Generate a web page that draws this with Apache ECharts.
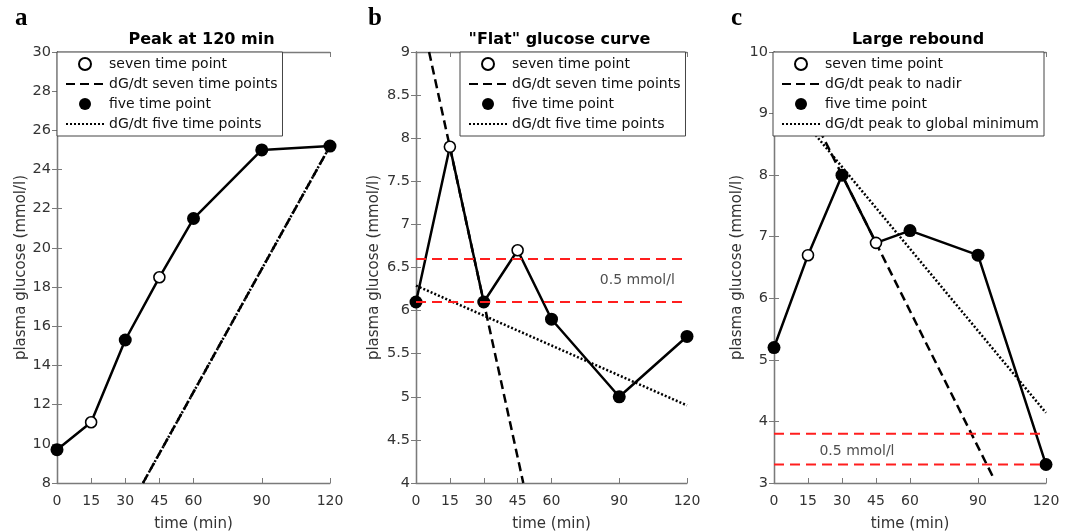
<!DOCTYPE html>
<html>
<head>
<meta charset="utf-8">
<script src="https://cdn.jsdelivr.net/npm/echarts@6/dist/echarts.min.js"></script>
<style>
html, body { margin: 0; padding: 0; background: #fff; }
#chart { width: 1072px; height: 531px; }
</style>
</head>
<body>
<div id="chart"></div>
<script>
// sampling times (min) and tick positions
const times = [0, 15, 30, 45, 60, 90, 120];
const timeTicks = [0, 15, 30, 45, 60, 90, 120];
// times that are only sampled in the seven time point protocol
const sevenOnlyTimes = [15, 45];

// plasma glucose (mmol/l) per panel
const glucoseA = [9.7, 11.1, 15.3, 18.5, 21.5, 25.0, 25.2];
const glucoseB = [6.1, 7.9, 6.1, 6.7, 5.9, 5.0, 5.7];
const glucoseC = [5.2, 6.7, 8.0, 6.9, 7.1, 6.7, 3.3];

// dG/dt lines as [time, glucose] end points
const slopeA7 = [[37.8, 8], [120, 25.2]];
const slopeA5 = [[37.8, 8], [120, 25.2]];
const slopeB7 = [[5.8, 9], [47.5, 4]];
const slopeB5 = [[0, 6.29], [120, 4.9]];
const slopeC7 = [[20, 8.74], [96.6, 3.1]];
const slopeC5 = [[15, 8.8], [120, 4.14]];

// 0.5 mmol/l bands and where their note sits
const bandB = [6.6, 6.1];
const bandC = [3.8, 3.3];
const noteB = [98, 6.35];
const noteC = [36.6, 3.52];
const noteText = '0.5 mmol/l';

// y axis ranges [min, max, interval]
const yRanges = [[8, 30, 2], [4, 9, 0.5], [3, 10, 1]];

const titles = ['Peak at 120 min', '"Flat" glucose curve', 'Large rebound'];
const letters = ['a', 'b', 'c'];
const legendNames = [
    ['seven time point', 'dG/dt seven time points', 'five time point', 'dG/dt five time points'],
    ['seven time point', 'dG/dt seven time points', 'five time point', 'dG/dt five time points'],
    ['seven time point', 'dG/dt peak to nadir', 'five time point', 'dG/dt peak to global minimum']
];

// layout
const grids = [
    { left: 57, top: 52, width: 273, height: 431, outerBoundsMode: 'none' },
    { left: 416, top: 52, width: 271, height: 431, outerBoundsMode: 'none' },
    { left: 774, top: 52, width: 272, height: 431, outerBoundsMode: 'none' }
];
const legendLeft = [57, 460, 773];
const letterLeft = [10, 363, 726];
const nameGaps = [26, 34, 29];

const font = 'DejaVu Sans';
const axisGray = '#7a7a7a';
const labelColor = '#333';

// build series for one panel
const panelSeries = (i, glucose, slope7, slope5, band, note) => {
    const ax = { xAxisIndex: 2 * i, yAxisIndex: 2 * i };
    const pts = times.map((t, k) => [t, glucose[k]]);
    const names = legendNames[i];
    // line series: hide the symbol that the legend would otherwise draw
    const noSym = { opacity: 0 };
    const list = [
        { ...ax, type: 'line', data: pts, symbol: 'none', color: '#000',
          lineStyle: { color: '#000', width: 2.5 }, z: 2 },
        { ...ax, name: names[1], type: 'line', data: slope7, symbol: 'none', color: '#000',
          itemStyle: noSym, lineStyle: { color: '#000', width: 2.5, type: [9, 5] }, z: 2 },
        { ...ax, name: names[3], type: 'line', data: slope5, symbol: 'none', color: '#000',
          itemStyle: noSym, lineStyle: { color: '#000', width: 2.5, type: [2, 2] }, z: 2 },
        { ...ax, name: names[0], type: 'scatter', symbol: 'circle', symbolSize: 11,
          data: pts.filter(p => sevenOnlyTimes.includes(p[0])),
          itemStyle: { color: '#fff', borderColor: '#000', borderWidth: 1.6, opacity: 1 }, z: 3 },
        { ...ax, name: names[2], type: 'scatter', symbol: 'circle', symbolSize: 13,
          data: pts.filter(p => !sevenOnlyTimes.includes(p[0])),
          itemStyle: { color: '#000', opacity: 1 }, z: 3 }
    ];
    if (band) {
        band.forEach(v => {
            list.push({ ...ax, type: 'line', data: [[0, v], [120, v]], symbol: 'none',
                lineStyle: { color: '#ff1e1e', width: 2, type: [10, 6] }, z: 4 });
        });
        list.push({ ...ax, type: 'scatter', data: [note], symbolSize: 0, z: 4,
            label: { show: true, position: 'inside', formatter: noteText,
                fontFamily: font, fontSize: 14, color: '#222' } });
    }
    return list;
};

const xAxes = [];
const yAxes = [];
grids.forEach((g, i) => {
    xAxes.push({
        gridIndex: i, type: 'value', position: 'bottom', min: 0, max: 120,
        name: 'time (min)', nameLocation: 'middle', nameGap: 34,
        nameTextStyle: { fontFamily: font, fontSize: 15, color: labelColor },
        axisLine: { lineStyle: { color: axisGray, width: 1.3 } },
        axisTick: { inside: true, length: 5, customValues: timeTicks, lineStyle: { color: axisGray } },
        axisLabel: { customValues: timeTicks, margin: 11, fontFamily: font, fontSize: 14, color: labelColor },
        splitLine: { show: false }
    });
    xAxes.push({
        gridIndex: i, type: 'value', position: 'top', min: 0, max: 120,
        axisLine: { lineStyle: { color: axisGray, width: 1.3 } },
        axisTick: { inside: true, length: 5, customValues: timeTicks, lineStyle: { color: axisGray } },
        axisLabel: { show: false },
        splitLine: { show: false }
    });
    const [mn, mx, step] = yRanges[i];
    yAxes.push({
        gridIndex: i, type: 'value', position: 'left', min: mn, max: mx, interval: step,
        name: 'plasma glucose (mmol/l)', nameLocation: 'middle', nameGap: nameGaps[i],
        nameTextStyle: { fontFamily: font, fontSize: 15, color: labelColor },
        axisLine: { show: true, lineStyle: { color: axisGray, width: 1.3 } },
        axisTick: { show: true, inside: true, length: 5, lineStyle: { color: axisGray } },
        axisLabel: { margin: 6, fontFamily: font, fontSize: 14.5, color: labelColor },
        splitLine: { show: false }
    });
    yAxes.push({
        gridIndex: i, type: 'value', position: 'right', min: mn, max: mx, interval: step,
        axisLine: { show: true, lineStyle: { color: axisGray, width: 1.3 } },
        axisTick: { show: true, inside: true, length: 5, lineStyle: { color: axisGray } },
        axisLabel: { show: false },
        splitLine: { show: false }
    });
});

const chart = echarts.init(document.getElementById('chart'));
const option = {
    animation: false,
    backgroundColor: '#fff',
    grid: grids,
    xAxis: xAxes,
    yAxis: yAxes,
    title: [
        ...titles.map((t, i) => ({
            text: t, left: grids[i].left + grids[i].width / 2 + 3, top: 27, textAlign: 'center',
            textStyle: { fontFamily: font, fontWeight: 'bold', fontSize: 16, color: '#000' }
        })),
        ...letters.map((l, i) => ({
            text: l, left: letterLeft[i], top: 1,
            textStyle: { fontFamily: 'Liberation Serif', fontWeight: 'bold', fontSize: 25, color: '#000' }
        }))
    ],
    legend: legendNames.map((names, i) => ({
        orient: 'vertical', left: legendLeft[i], top: 52,
        itemWidth: 38, itemHeight: 12, itemGap: 6,
        padding: [5, 5, 5, 8],
        borderColor: '#444', borderWidth: 1, backgroundColor: '#fff',
        selectedMode: false,
        textStyle: { fontFamily: font, fontSize: 14, color: '#111' },
        data: names
    })),
    series: [
        ...panelSeries(0, glucoseA, slopeA7, slopeA5, null, null),
        ...panelSeries(1, glucoseB, slopeB7, slopeB5, bandB, noteB),
        ...panelSeries(2, glucoseC, slopeC7, slopeC5, bandC, noteC)
    ]
};
chart.setOption(option);
</script>
</body>
</html>
